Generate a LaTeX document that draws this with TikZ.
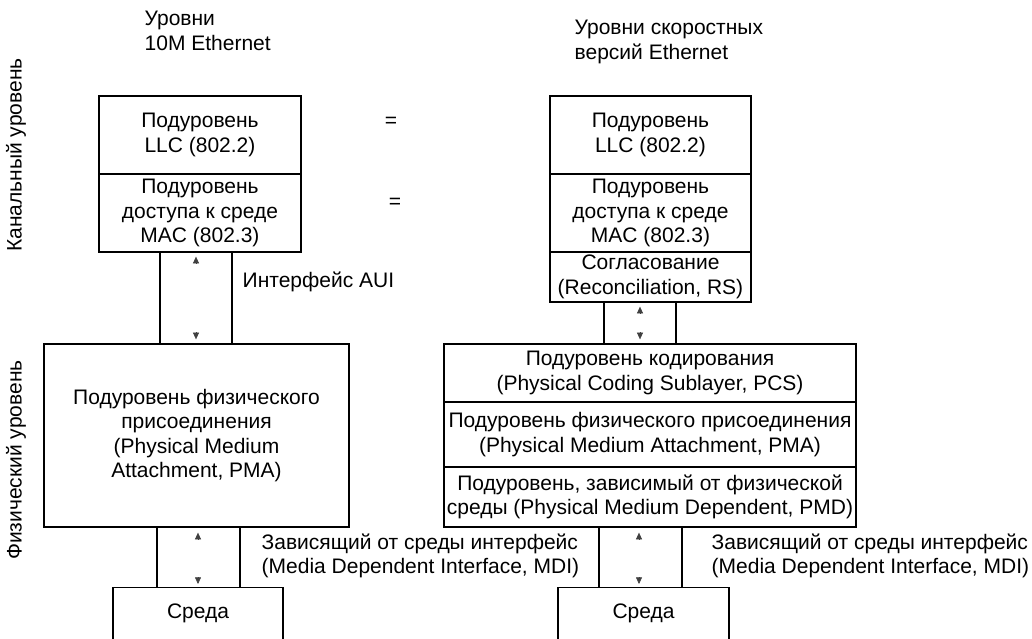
\documentclass[tikz,border=0pt]{standalone}
\usepackage{fontspec}
\setmainfont{Liberation Sans}
\usetikzlibrary{positioning, calc, arrows.meta}
\newdimen\px \px=0.75pt

\begin{document}
\begin{tikzpicture}[x=0.75pt, y=-0.75pt,
		every node/.style={font=\fontsize{15.75}{18.4}\selectfont},
		layer/.style={draw, line width=1pt, rectangle, align=center, inner sep=0pt},
		chan/.style={line width=1pt},
		tip/.style={black!75, -{Triangle[width=4.5pt,length=5pt]}}]
		\useasboundingbox (0,0) rectangle (1032,639);
		\clip (0,0) rectangle (1032,639);
		% Headers
		\node[anchor=west, align=left] (head10) at (140,31) {Уровни\\10M Ethernet};
		\node[anchor=west, align=left] (headfast) at (570,42) {Уровни скоростных\\версий Ethernet};
		\node[rotate=90] (datalink) at (16,155) {Канальный уровень};
		\node[rotate=90] (physical) at (16,460) {Физический уровень};
		% Left column: 10M Ethernet
		\node[layer, minimum width=202\px, minimum height=78\px] (llc10) at (200,135) {Подуровень\\LLC (802.2)};
		\node[layer, minimum width=202\px, minimum height=78\px] (mac10) at (200,213) {Подуровень\\доступа к среде\\MAC (802.3)};
		\node[layer, minimum width=305\px, minimum height=183\px] (pma10) at (196.5,435.5) {Подуровень физического\\присоединения\\(Physical Medium\\Attachment, PMA)};
		\node[layer, minimum width=170\px, minimum height=106\px, anchor=north] (media10) at (198,587) {};
		\node (media10txt) at (198,613) {Среда};
		% Right column: fast Ethernet
		\node[layer, minimum width=201\px, minimum height=78\px] (llc) at (650.5,135) {Подуровень\\LLC (802.2)};
		\node[layer, minimum width=201\px, minimum height=78\px] (mac) at (650.5,213) {Подуровень\\доступа к среде\\MAC (802.3)};
		\node[layer, minimum width=201\px, minimum height=50\px] (rs) at (650.5,277) {Согласование\\(Reconciliation, RS)};
		\node[layer, minimum width=412\px, minimum height=58\px] (pcs) at (650,373) {Подуровень кодирования\\(Physical Coding Sublayer, PCS)};
		\node[layer, minimum width=412\px, minimum height=65\px] (pma) at (650,434.5) {Подуровень физического присоединения\\(Physical Medium Attachment, PMA)};
		\node[layer, minimum width=412\px, minimum height=60\px] (pmd) at (650,497) {Подуровень, зависимый от физической\\среды (Physical Medium Dependent, PMD)};
		\node[layer, minimum width=171\px, minimum height=106\px, anchor=north] (media) at (643.5,587) {};
		\node (mediatxt) at (643.5,613) {Среда};
		% Equal signs
		\node (eq1) at (391,122) {=};
		\node (eq2) at (395,203) {=};
		% Interfaces
		\coordinate (a1) at (160,0); \coordinate (a2) at (232,0); \coordinate (am) at (196,0);
		\draw[chan] (mac10.south -| a1) -- (pma10.north -| a1);
		\draw[chan] (mac10.south -| a2) -- (pma10.north -| a2);
		\draw[tip] ($(mac10.south -| am)+(0,11)$) -- ($(mac10.south -| am)+(0,4)$);
		\draw[tip] ($(pma10.north -| am)+(0,-11)$) -- ($(pma10.north -| am)+(0,-4)$);
		\node[anchor=west] (aui) at (238,282) {Интерфейс AUI};
		\coordinate (m1) at (157,0); \coordinate (m2) at (240,0); \coordinate (mm) at (198,0);
		\draw[chan] (pma10.south -| m1) -- (media10.north -| m1);
		\draw[chan] (pma10.south -| m2) -- (media10.north -| m2);
		\draw[tip] ($(pma10.south -| mm)+(0,12)$) -- ($(pma10.south -| mm)+(0,5)$);
		\draw[tip] ($(media10.north -| mm)+(0,-10)$) -- ($(media10.north -| mm)+(0,-3)$);
		\node[anchor=west, align=left] (mdi10) at (257,556) {Зависящий от среды интерфейс\\(Media Dependent Interface, MDI)};
		\coordinate (r1) at (604,0); \coordinate (r2) at (676,0); \coordinate (rm) at (640,0);
		\draw[chan] (rs.south -| r1) -- (pcs.north -| r1);
		\draw[chan] (rs.south -| r2) -- (pcs.north -| r2);
		\draw[tip] ($(rs.south -| rm)+(0,11)$) -- ($(rs.south -| rm)+(0,4)$);
		\draw[tip] ($(pcs.north -| rm)+(0,-11)$) -- ($(pcs.north -| rm)+(0,-4)$);
		\coordinate (n1) at (599,0); \coordinate (n2) at (682,0); \coordinate (nm) at (639,0);
		\draw[chan] (pmd.south -| n1) -- (media.north -| n1);
		\draw[chan] (pmd.south -| n2) -- (media.north -| n2);
		\draw[tip] ($(pmd.south -| nm)+(0,12)$) -- ($(pmd.south -| nm)+(0,5)$);
		\draw[tip] ($(media.north -| nm)+(0,-10)$) -- ($(media.north -| nm)+(0,-3)$);
		\node[anchor=west, align=left] (mdi) at (707,556) {Зависящий от среды интерфейс\\(Media Dependent Interface, MDI)};
	\end{tikzpicture}
\end{document}
